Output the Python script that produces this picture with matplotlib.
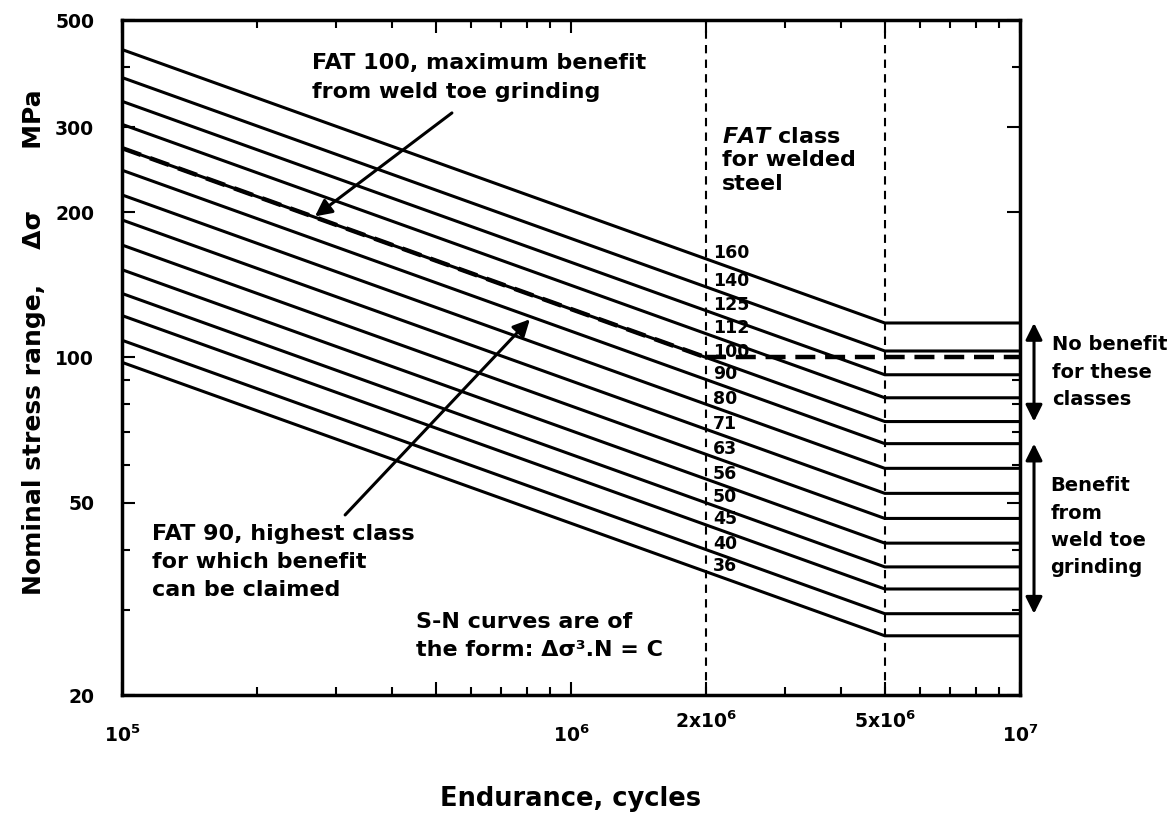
import numpy as np
import matplotlib
matplotlib.use("Agg")
import matplotlib.pyplot as plt
from matplotlib.ticker import FixedLocator, NullFormatter

plt.rcParams['font.family'] = ['DejaVu Sans']
plt.rcParams['font.weight'] = 'bold'
plt.rcParams['mathtext.default'] = 'bf'

# FAT classes for welded steel (stress range at 2 million cycles, MPa)
fat_classes = [160, 140, 125, 112, 100, 90, 80, 71, 63, 56, 50, 45, 40, 36]
fat_improved = 100          # upper limit after weld toe grinding
m_slope = 3                 # S-N curves: dsigma^m . N = C
n_start = 1e5
n_ref = 2e6
n_knee = 5e6
n_end = 1e7

x_ticks = [1e5, 5e5, 1e6, 2e6, 5e6, 1e7]
x_ticklabels = [r'$10^5$', '', r'$10^6$', r'$2x10^6$', r'$5x10^6$', r'$10^7$']
y_ticks = [20, 50, 100, 200, 300, 500]
y_minor = [30, 40, 60, 70, 80, 90, 400]


def sn_stress(fat, n):
    return fat * (n_ref / n) ** (1.0 / m_slope)


fig = plt.figure(figsize=(11.74, 8.22), dpi=100)
ax = fig.add_axes([122 / 1174, 1 - 695 / 822, 898 / 1174, 675 / 822])
ax.set_xscale('log')
ax.set_yscale('log')

# one solid curve per class: slope 1:3 down to 5e6, then flat
for fat in fat_classes:
    xs = [n_start, n_knee, n_end]
    ys = [sn_stress(fat, n_start), sn_stress(fat, n_knee), sn_stress(fat, n_knee)]
    ax.plot(xs, ys, color='k', lw=2.2, solid_capstyle='butt', zorder=3)
    ax.annotate(str(fat), xy=(n_ref, fat), xytext=(5, 4), textcoords='offset points',
                ha='left', va='center', fontsize=12.5, fontweight='bold', zorder=5)

# FAT 100 improved curve: sloped to 2e6 then constant
ax.plot([n_start, n_ref], [sn_stress(fat_improved, n_start), fat_improved],
        color='k', lw=3.2, dashes=(4.5, 2.2), zorder=4)
ax.plot([n_ref, n_end], [fat_improved, fat_improved],
        color='k', lw=3.2, dashes=(4.5, 2.2), zorder=4)

# reference endurances
for nv in [n_ref, n_knee]:
    ax.axvline(nv, color='k', lw=1.5, dashes=(4, 3), zorder=2)

ax.set_xlim(n_start, n_end)
ax.set_ylim(20, 500)

ax.xaxis.set_major_locator(FixedLocator(x_ticks))
ax.set_xticklabels(x_ticklabels)
ax.xaxis.set_minor_locator(FixedLocator([2e5, 3e5, 4e5, 6e5, 7e5, 8e5, 9e5,
                                         3e6, 4e6, 6e6, 7e6, 8e6, 9e6]))
ax.xaxis.set_minor_formatter(NullFormatter())
ax.yaxis.set_major_locator(FixedLocator(y_ticks))
ax.set_yticklabels([str(v) for v in y_ticks])
ax.yaxis.set_minor_locator(FixedLocator(y_minor))
ax.yaxis.set_minor_formatter(NullFormatter())

ax.tick_params(which='both', direction='in', top=True, right=True, width=1.5)
ax.tick_params(which='major', length=9.5, labelsize=13.5)
ax.tick_params(which='minor', length=5.5)
ax.tick_params(axis='y', which='major', pad=20)
for i, tick in enumerate(ax.xaxis.get_major_ticks()):
    if x_ticks[i] in (2e6, 5e6):
        tick.set_pad(11)
    else:
        tick.set_pad(21)
for sp in ax.spines.values():
    sp.set_linewidth(2.5)

ax.set_ylabel('Nominal stress range,    \u0394\u03c3       MPa', fontsize=18,
              fontweight='bold')
ax.yaxis.set_label_coords(-0.085, 0.523)
ax.set_xlabel('Endurance, cycles', fontsize=18.5, fontweight='bold')
ax.xaxis.set_label_coords(0.5, -0.135)

arrow = dict(arrowstyle='-|>', color='k', lw=2.2, mutation_scale=25,
             shrinkA=0, shrinkB=0)

ax.annotate('', xy=(2.69e5, 196), xytext=(5.43e5, 321), arrowprops=arrow)
ax.text(2.65e5, 380, 'FAT 100, maximum benefit\nfrom weld toe grinding',
        fontsize=16, fontweight='bold', ha='left', va='center', linespacing=1.6)

ax.annotate('', xy=(8.1e5, 120), xytext=(3.14e5, 47.2), arrowprops=arrow)
ax.text(1.166e5, 37.7, 'FAT 90, highest class\nfor which benefit\ncan be claimed',
        fontsize=16, fontweight='bold', ha='left', va='center', linespacing=1.5)

ax.text(2.17e6, 256, r'$\mathit{FAT}$ class' + '\nfor welded\nsteel',
        fontsize=16, fontweight='bold', ha='left', va='center', linespacing=1.2)

ax.text(4.52e5, 26.5, 'S-N curves are of\nthe form: \u0394\u03c3\u00b3.N = C',
        fontsize=16, fontweight='bold', ha='left', va='center', linespacing=1.45)

# side arrows spanning the flat parts of the curves
yx = ax.get_yaxis_transform()
side = dict(arrowstyle='<|-|>', color='k', lw=2.2, mutation_scale=25,
            shrinkA=0, shrinkB=0)
ax.annotate('', xy=(1.0156, sn_stress(fat_classes[0], n_knee)),
            xytext=(1.0156, sn_stress(100, n_knee)), xycoords=yx, textcoords=yx,
            arrowprops=side, annotation_clip=False)
ax.annotate('', xy=(1.0156, sn_stress(90, n_knee)),
            xytext=(1.0156, sn_stress(40, n_knee)), xycoords=yx, textcoords=yx,
            arrowprops=side, annotation_clip=False)
ax.text(1.036, 93.3, 'No benefit\nfor these\nclasses', transform=yx,
        fontsize=14, fontweight='bold', ha='left', va='center', linespacing=1.55)
ax.text(1.034, 44.6, 'Benefit\nfrom\nweld toe\ngrinding', transform=yx,
        fontsize=14, fontweight='bold', ha='left', va='center', linespacing=1.55)

fig.savefig('out.png', dpi=100)
